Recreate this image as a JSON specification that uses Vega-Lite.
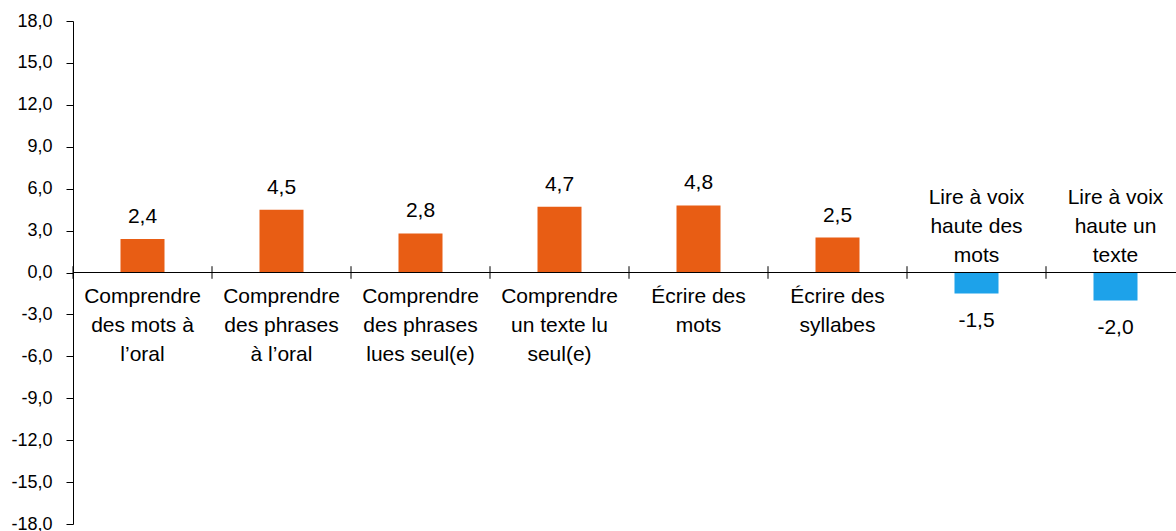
{
  "$schema": "https://vega.github.io/schema/vega-lite/v6.json",
  "width": 1112,
  "height": 503,
  "autosize": {"type": "none"},
  "padding": {"left": 73, "top": 21, "right": 0, "bottom": 7},
  "background": "white",
  "config": {
    "view": {"stroke": null},
    "font": "Liberation Sans",
    "locale": {"number": {"decimal": ",", "thousands": " ", "grouping": [3], "currency": ["", " €"], "minus": "-"}}
  },
  "data": {
    "values": [
      {"cat": "Comprendre des mots à l’oral", "lines": ["Comprendre", "des mots à", "l’oral"], "value": 2.4},
      {"cat": "Comprendre des phrases à l’oral", "lines": ["Comprendre", "des phrases", "à l’oral"], "value": 4.5},
      {"cat": "Comprendre des phrases lues seul(e)", "lines": ["Comprendre", "des phrases", "lues seul(e)"], "value": 2.8},
      {"cat": "Comprendre un texte lu seul(e)", "lines": ["Comprendre", "un texte lu", "seul(e)"], "value": 4.7},
      {"cat": "Écrire des mots", "lines": ["Écrire des", "mots"], "value": 4.8},
      {"cat": "Écrire des syllabes", "lines": ["Écrire des", "syllabes"], "value": 2.5},
      {"cat": "Lire à voix haute des mots", "lines": ["Lire à voix", "haute des", "mots"], "value": -1.5},
      {"cat": "Lire à voix haute un texte", "lines": ["Lire à voix", "haute un", "texte"], "value": -2.0}
    ]
  },
  "encoding": {
    "x": {"field": "cat", "type": "nominal", "sort": null, "axis": null,
          "scale": {"paddingInner": 0, "paddingOuter": 0}}
  },
  "layer": [
    {
      "mark": {"type": "bar", "width": 44},
      "encoding": {
        "y": {"field": "value", "type": "quantitative",
              "scale": {"domain": [-18, 18], "nice": false, "zero": true},
              "axis": {"values": [-18, -15, -12, -9, -6, -3, 0, 3, 6, 9, 12, 15, 18],
                       "format": ".1f", "title": null, "grid": false,
                       "domainColor": "#000000", "tickColor": "#000000", "tickSize": 7,
                       "labelFontSize": 18, "labelColor": "#000000", "labelPadding": 14,
                       "labelFont": "Liberation Sans"}},
        "color": {"condition": {"test": "datum.value < 0", "value": "#1DA2EA"}, "value": "#E85D14"}
      }
    },
    {
      "mark": {"type": "rule", "color": "#000000", "strokeWidth": 1},
      "encoding": {"x": null, "y": {"datum": 0}}
    },
    {
      "mark": {"type": "rule", "color": "#000000", "strokeWidth": 1},
      "encoding": {
        "x": {"field": "cat", "type": "nominal", "sort": null, "bandPosition": 0},
        "y": {"datum": -0.45},
        "y2": {"datum": 0.45}
      }
    },
    {
      "transform": [{"filter": "datum.value >= 0"}],
      "mark": {"type": "text", "fontSize": 21, "baseline": "alphabetic", "dy": -16, "color": "#000000"},
      "encoding": {"y": {"field": "value", "type": "quantitative"}, "text": {"field": "value", "type": "quantitative", "format": ".1f"}}
    },
    {
      "transform": [{"filter": "datum.value < 0"}],
      "mark": {"type": "text", "fontSize": 21, "baseline": "top", "dy": 17, "color": "#000000"},
      "encoding": {"y": {"field": "value", "type": "quantitative"}, "text": {"field": "value", "type": "quantitative", "format": ".1f"}}
    },
    {
      "transform": [{"filter": "datum.value >= 0"}],
      "mark": {"type": "text", "fontSize": 21, "baseline": "top", "dy": 13, "lineHeight": 29, "color": "#000000"},
      "encoding": {"y": {"datum": 0}, "text": {"field": "lines"}}
    },
    {
      "transform": [{"filter": "datum.value < 0"}],
      "mark": {"type": "text", "fontSize": 21, "baseline": "bottom", "dy": -65, "lineHeight": 29, "color": "#000000"},
      "encoding": {"y": {"datum": 0}, "text": {"field": "lines"}}
    }
  ]
}
